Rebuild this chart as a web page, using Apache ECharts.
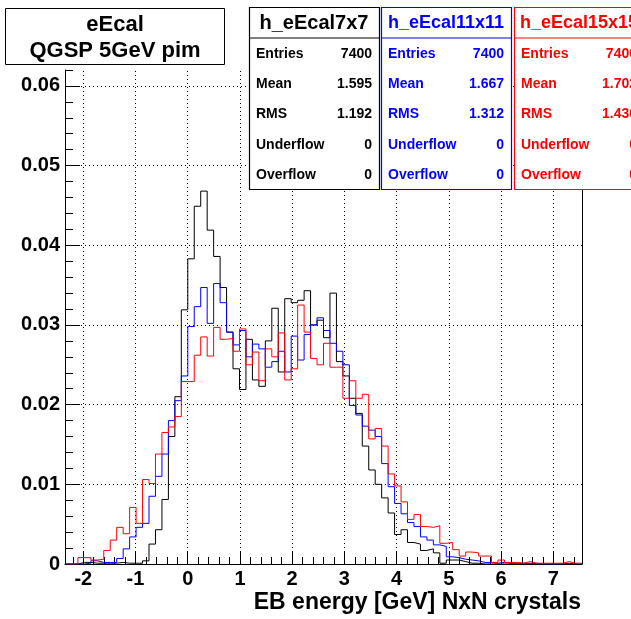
<!DOCTYPE html>
<html lang="en">
<head>
<meta charset="UTF-8">
<title>eEcal QGSP 5GeV pim</title>
<script src="https://cdn.jsdelivr.net/npm/echarts@6/dist/echarts.min.js"></script>
<style>
  html, body { margin: 0; padding: 0; background: #fff; }
  #main { width: 631px; height: 619px; }
</style>
</head>
<body>
<div id="main"></div>
<script>
// histogram binning (80 bins)
var xMin = -2.35, xMax = 7.55, nBins = 80;
var yMax = 0.062;
var xTicks = [-2, -1, 0, 1, 2, 3, 4, 5, 6, 7];
var yTicks = [0, 0.01, 0.02, 0.03, 0.04, 0.05, 0.06];

// normalised bin contents
var h7x7 = [
  0, 0, 0.0002, 0.0002, 0.0001, 0.0001, 0.0001, 0.0001, 0.0002, 0.0001,
  0.0001, 0.0001, 0.0004, 0.0025, 0.0043, 0.0081, 0.0160, 0.0210, 0.0319, 0.0383,
  0.0449, 0.0468, 0.0419, 0.0386, 0.0347, 0.0291, 0.0245, 0.0219, 0.0282, 0.0231,
  0.0223, 0.0280, 0.0321, 0.0241, 0.0333, 0.0328, 0.0331, 0.0343, 0.0300, 0.0306,
  0.0284, 0.0340, 0.0254, 0.0236, 0.0208, 0.0189, 0.0148, 0.0118, 0.0100, 0.0083,
  0.0064, 0.0037, 0.0043, 0.0027, 0.0025, 0.0017, 0.0019, 0.0014, 0.0001, 0.0005,
  0.0005, 0.0003, 0.0001, 0.0001, 0, 0, 0, 0, 0, 0,
  0, 0, 0, 0, 0, 0, 0, 0, 0, 0
];
var h11x11 = [
  0, 0, 0, 0.0001, 0.0004, 0.0002, 0.0002, 0.0002, 0.0007, 0.0019,
  0.0034, 0.0046, 0.0051, 0.0085, 0.0110, 0.0138, 0.0180, 0.0205, 0.0236, 0.0298,
  0.0323, 0.0347, 0.0302, 0.0352, 0.0328, 0.0291, 0.0275, 0.0293, 0.0260, 0.0276,
  0.0270, 0.0247, 0.0254, 0.0267, 0.0241, 0.0286, 0.0256, 0.0288, 0.0300, 0.0309,
  0.0293, 0.0277, 0.0267, 0.0250, 0.0199, 0.0187, 0.0173, 0.0168, 0.0160, 0.0126,
  0.0097, 0.0076, 0.0063, 0.0052, 0.0047, 0.0034, 0.0030, 0.0024, 0.0022, 0.0009,
  0.0008, 0.0006, 0.0005, 0.0004, 0.0002, 0.0002, 0.0001, 0.0002, 0.0001, 0.0001,
  0.0001, 0.0001, 0.0001, 0, 0, 0, 0, 0.0001, 0, 0
];
var h15x15 = [
  0, 0, 0.0008, 0.0008, 0.0005, 0.0006, 0.0017, 0.0030, 0.0046, 0.0038,
  0.0071, 0.0051, 0.0106, 0.0101, 0.0138, 0.0165, 0.0172, 0.0185, 0.0229, 0.0229,
  0.0262, 0.0285, 0.0261, 0.0297, 0.0282, 0.0283, 0.0267, 0.0295, 0.0250, 0.0266,
  0.0230, 0.0270, 0.0260, 0.0290, 0.0231, 0.0245, 0.0325, 0.0291, 0.0258, 0.0250,
  0.0277, 0.0247, 0.0247, 0.0208, 0.0230, 0.0208, 0.0213, 0.0157, 0.0170, 0.0148,
  0.0113, 0.0098, 0.0078, 0.0056, 0.0062, 0.0047, 0.0046, 0.0048, 0.0026, 0.0027,
  0.0018, 0.0010, 0.0015, 0.0014, 0.0010, 0.0010, 0.0002, 0.0005, 0.0002, 0.0002,
  0.0001, 0.0003, 0.0001, 0.0001, 0.0001, 0.0001, 0.0001, 0.0003, 0.0001, 0.0001
];

// stats boxes
var statNames = ['h_eEcal7x7', 'h_eEcal11x11', 'h_eEcal15x15'];
var statLabels = ['Entries', 'Mean', 'RMS', 'Underflow', 'Overflow'];
var stats7x7 = ['7400', '1.595', '1.192', '0', '0'];
var stats11x11 = ['7400', '1.667', '1.312', '0', '0'];
var stats15x15 = ['7400', '1.702', '1.430', '0', '0'];

var titleLines = ['eEcal', 'QGSP 5GeV pim'];
var xTitle = 'EB energy [GeV] NxN crystals';

var FONT = '"Liberation Sans", Arial, Helvetica, sans-serif';
var binW = (xMax - xMin) / nBins;

function stepData(vals) {
  var d = [];
  for (var i = 0; i < vals.length; i++) d.push([xMin + i * binW, vals[i]]);
  d.push([xMax, vals[vals.length - 1]]);
  return d;
}

var minorX = [];
for (var v = -2.2; v < xMax; v += 0.2) minorX.push(Math.round(v * 10) / 10);
var minorY = [];
for (var k = 0; k <= 31; k++) minorY.push(Math.round(k * 0.002 * 1e4) / 1e4);

var gridMarks = [];
xTicks.forEach(function (t) { gridMarks.push({ xAxis: t }); });
yTicks.slice(1).forEach(function (t) { gridMarks.push({ yAxis: t }); });

function histSeries(name, vals, color) {
  return {
    name: name, type: 'line', step: 'end', data: stepData(vals),
    symbol: 'none', lineStyle: { color: color, width: 1 },
    xAxisIndex: 0, yAxisIndex: 0, animation: false
  };
}

var graphics = [];
function txt(x, y, s, size, color, align) {
  graphics.push({
    type: 'text', x: x, y: y, z: 110,
    style: {
      text: s, font: 'bold ' + size + 'px ' + FONT, fill: color,
      align: align, textAlign: align, verticalAlign: 'middle', textVerticalAlign: 'middle'
    }
  });
}
// title pave
graphics.push({ type: 'rect', z: 100, shape: { x: 5.5, y: 8.5, width: 219, height: 56 },
  style: { fill: '#fff', stroke: '#000', lineWidth: 1 } });
txt(115, 25, titleLines[0], 22, '#000', 'center');
txt(115, 51, titleLines[1], 22, '#000', 'center');

function statBox(x, name, vals, color, tSize) {
  graphics.push({ type: 'rect', z: 100, shape: { x: x + 0.5, y: 7.5, width: 130, height: 182 },
    style: { fill: '#fff', stroke: color, lineWidth: 1.2 } });
  graphics.push({ type: 'line', z: 101, shape: { x1: x, y1: 38, x2: x + 130, y2: 38 },
    style: { stroke: color, lineWidth: 1.2 } });
  txt(x + 65, 23, name, tSize, color, 'center');
  var ys = [54, 84, 114, 145, 175];
  for (var i = 0; i < statLabels.length; i++) {
    txt(x + 7, ys[i], statLabels[i], 14, color, 'left');
    txt(x + 123, ys[i], vals[i], 14, color, 'right');
  }
}
statBox(249, statNames[0], stats7x7, '#000000', 20);
statBox(381, statNames[1], stats11x11, '#0000ff', 18);
statBox(514, statNames[2], stats15x15, '#ff0000', 18);

txt(581, 603, xTitle, 23, '#000', 'right');

var chart = echarts.init(document.getElementById('main'));
chart.setOption({
  animation: false,
  backgroundColor: '#fff',
  grid: { left: 65, right: 49, top: 70, bottom: 55, containLabel: false },
  xAxis: [{
    type: 'value', min: xMin, max: xMax, position: 'bottom',
    axisLine: { show: true, onZero: false, lineStyle: { color: '#000', width: 1 } },
    axisTick: { show: true, inside: true, length: 13, customValues: xTicks, lineStyle: { color: '#000' } },
    axisLabel: { customValues: xTicks, color: '#000', fontSize: 20, fontWeight: 'bold', fontFamily: FONT, margin: 5 },
    splitLine: { show: false }
  }, {
    type: 'value', min: xMin, max: xMax, position: 'bottom', offset: 0,
    axisLine: { show: false, onZero: false },
    axisTick: { show: true, inside: true, length: 7, customValues: minorX, lineStyle: { color: '#000' } },
    axisLabel: { show: false }, splitLine: { show: false }
  }],
  yAxis: [{
    type: 'value', min: 0, max: yMax, position: 'left',
    axisLine: { show: true, onZero: false, lineStyle: { color: '#000', width: 1 } },
    axisTick: { show: true, inside: true, length: 15, customValues: yTicks, lineStyle: { color: '#000' } },
    axisLabel: {
      customValues: yTicks, color: '#000', fontSize: 20, fontWeight: 'bold', fontFamily: FONT, margin: 5,
      formatter: function (v) { return v === 0 ? '0' : v.toFixed(2); }
    },
    splitLine: { show: false }
  }, {
    type: 'value', min: 0, max: yMax, position: 'left', offset: 0,
    axisLine: { show: false, onZero: false },
    axisTick: { show: true, inside: true, length: 8, customValues: minorY, lineStyle: { color: '#000' } },
    axisLabel: { show: false }, splitLine: { show: false }
  }, {
    type: 'value', min: 0, max: yMax, position: 'right', offset: 0,
    axisLine: { show: true, onZero: false, lineStyle: { color: '#000', width: 1 } },
    axisTick: { show: false }, axisLabel: { show: false }, splitLine: { show: false }
  }],
  series: [{
    name: 'grid', type: 'line', data: [], xAxisIndex: 0, yAxisIndex: 0,
    markLine: {
      silent: true, symbol: ['none', 'none'], animation: false,
      label: { show: false },
      lineStyle: { color: '#000', width: 1, type: [1, 3] },
      data: gridMarks
    }
  },
    histSeries(statNames[0], h7x7, '#000000'),
    histSeries(statNames[1], h11x11, '#0000ff'),
    histSeries(statNames[2], h15x15, '#ff0000')
  ],
  graphic: graphics
});
</script>
</body>
</html>
